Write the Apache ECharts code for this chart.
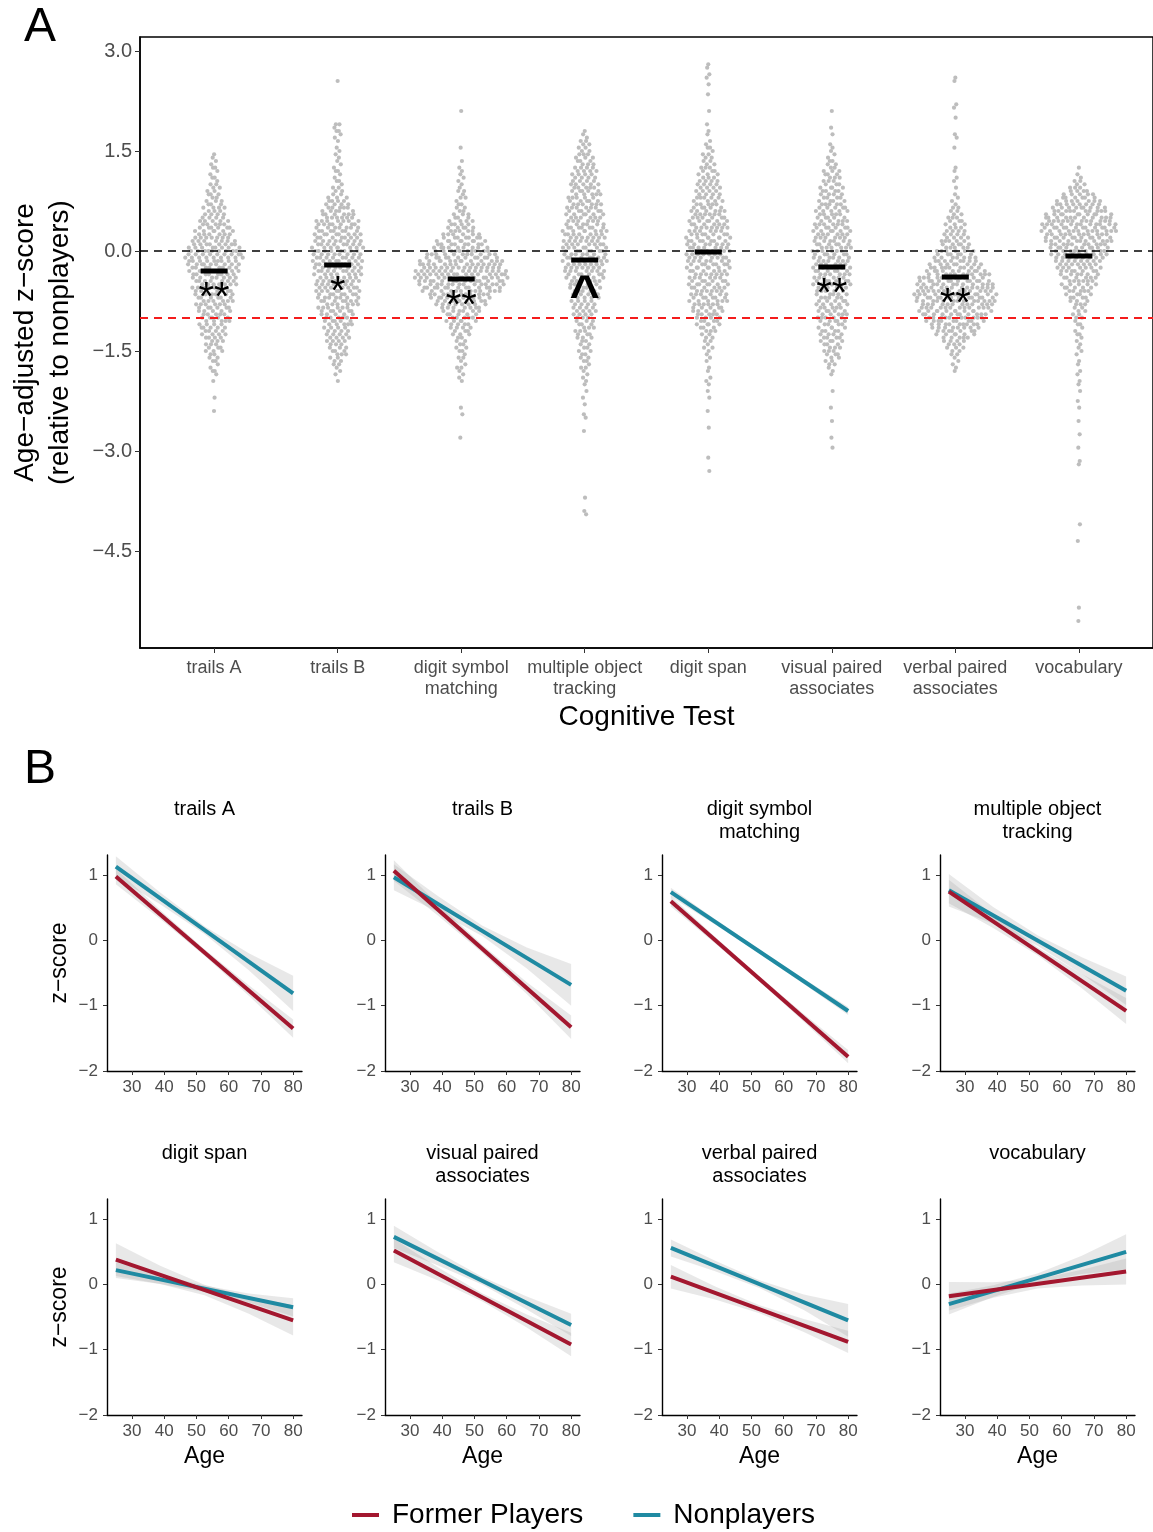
<!DOCTYPE html>
<html>
<head>
<meta charset="utf-8">
<title>Cognitive tests: former players vs nonplayers</title>
<script src="https://cdn.jsdelivr.net/npm/echarts@6.0.0/dist/echarts.min.js"></script>
<style>
  html, body { margin: 0; padding: 0; background: #fff; }
  #chart { width: 1153px; height: 1532px; }
</style>
</head>
<body>
<div id="chart"></div>
<script>
const FONT = '"Liberation Sans", Arial, Helvetica, sans-serif';
const MINUS = '\u2212';

// ---- panel A: age-adjusted z-scores, one swarm per test ----
const tests = [
  'trails A', 'trails B', 'digit symbol\nmatching', 'multiple object\ntracking',
  'digit span', 'visual paired\nassociates', 'verbal paired\nassociates', 'vocabulary',
];
const means = [-0.30, -0.21, -0.42, -0.135, -0.015, -0.24, -0.39, -0.075];
const sigMarks = ['**', '*', '**', '^', '', '**', '**', ''];
const yTicksA = [-4.5, -3, -1.5, 0, 1.5, 3];

// points per 0.05 bin, read top-down starting at swarmTop
const binStep = 0.05;
const swarmTop = [1.45, 2.55, 2.10, 1.80, 2.80, 2.10, 2.60, 1.25];
const swarmCounts = [
  [1,1,1,1,2,1,1,2,1,2,2, 2,3,2,3,3,4,3,4, 4,5,5,6,6,6,7,7, 8,8,9,9,9,9,
   9,8,8,8,7,7,7,7, 7,6,6,6,6,6, 5,5,5,5,4,5, 4,4,4,3,3,3, 3,2,2,2, 1,1,2,1,0,1,
   0,0,0,0,1,0,0,0,1],
  [1,0,0,0,0,0,0,0,0,0,0,0,0, 2,1,2,1,1,1,0,1,1, 1,1,1,1,1,2,1,1,2,1,2,
   2,2,3,4,4,5,5,6, 6,7,7,7,7,8,7,8, 8,8,8,8,8,8, 8,8,8,7,7,8,7,7,
   7,7,7,7,6,6, 6,5,5,5,5,4, 4,4,4,4,3,3, 3,3,2,2,2, 1,1,1,0,1],
  [1,0,0,0,0,0,0,0,0,0,0, 1,0,0,0,1,0,1,1,1,1,1, 1,1,2,1,2,1,2,2,2,3,
   3,4,4,5,5,6,7,8, 8,9,10,11,12,13, 14,14,15,15,15,14,14,13, 12,11,10,9,8,7,
   6,5,5,5,4,4, 3,3,2,2,2,2, 2,1,2,1,1,2,1,1,1,1,
   0,0,0,0,0,0,0,1,0,1,0,0,0,0,0,0,1],
  [1,1,1,2,2,2,2,3,3, 3,3,4,4,4,4,4,5,5, 5,5,5,5,6,6,6,6, 6,6,6,7,7,7,7,7,
   7,7,7,7,7,7, 7,7,7,6,6,6,5,5, 5,5,4,4,4,4, 4,4,3,3,3,3, 3,3,3,2,2,2,
   2,2,2,2,1,2,1,1,1,1, 1,0,1,0,1,0,1,0,0,1,1,
   0,0,0,1,0,0,0,0,0,0,0,0,0,0,0,0,0,0,0,0,0,0,0,1,0,0,0,1,1],
  [1,1,0,1,1,0,1,0,0,1, 0,0,0,0,1,0,0,0,1,0,1, 1,0,1,1,2,1,2,2,2,
   2,3,3,3,3,4,4,4, 4,4,5,4,5,5,6,6, 6,6,6,7,6,7,7,7, 7,7,7,7,7,7,
   7,7,6,7,6,6,7,6, 6,6,6,6,6,5, 5,5,4,4,4,3, 3,2,2,2,1,2,
   1,1,1,1,0,1,1,0,1,1, 1,0,1,0,1,0,0,0,1,0,
   0,0,0,1,0,0,0,0,0,0,0,0,1,0,0,0,1],
  [1,0,0,0,0,1,0,1,0,0,1, 1,1,1,1,2,2,2,3,3, 3,3,3,4,4,4,4,4, 5,5,5,5,5,5,6,6,
   6,6,6,6,6,6,6,6, 6,6,6,6,6,6,6,6, 6,6,5,5,5,5,5,5, 5,5,5,5,4,4,4,4,
   4,4,3,3,3,3,2,2, 2,1,1,1,0,0,
   0,0,1,0,0,0,0,1,0,0,0,1,0,0,0,0,1,0,0,1],
  [1,1,0,0,0,0,0,0,1,1,0,0,1,0,0,0,0,1,1,0,0,1,0,0,0,0,0,1,1,0,1,1,0,1,0,1,1,1,1,2,
   2,2,3,3,3,3,4,4, 4,5,5,5,6,6,7,8, 8,9,10,11,11,12,12,13,
   13,13,13,13,12,12,11,11, 10,9,9,8,7,6,5,4,3,3, 2,2,1,1,1,1,1],
  [1,0,1,1,2,2,3, 4,5,6,7,8,9,10,10, 11,12,12,12,12,11,11,11, 10,10,9,9,8,8,7,7,
   7,6,6,6,5,5,5,4, 4,3,3,2,2,2, 2,1,2,1,1,2,1,1,1,1, 1,1,0,1,1,0,1,1,0,1,
   1,0,1,0,0,1,0,1,0,0, 0,1,0,0,0,1,0,0,0,1,0,0,0,1,1,
   0,0,0,0,0,0,0,0,0,0,0,0,0,0,0,0,0,1,0,0,0,0,1,
   0,0,0,0,0,0,0,0,0,0,0,0,0,0,0,0,0,0,0,1,0,0,0,1],
];

// ---- panel B: linear fits of z-score on age ----
const panelTitles = [
  'trails A', 'trails B', 'digit symbol\nmatching', 'multiple object\ntracking',
  'digit span', 'visual paired\nassociates', 'verbal paired\nassociates', 'vocabulary',
];
const fitAges = [25, 80];
const formerFit = [
  [0.98, -1.35], [1.07, -1.33], [0.60, -1.78], [0.75, -1.08],
  [0.38, -0.55], [0.52, -0.92], [0.12, -0.88], [-0.18, 0.20],
];
const nonFit = [
  [1.13, -0.81], [0.97, -0.68], [0.74, -1.08], [0.77, -0.77],
  [0.22, -0.35], [0.73, -0.62], [0.56, -0.55], [-0.30, 0.50],
];
// half width of the confidence band at these ages
const ciAges = [25, 38.75, 52.5, 66.25, 80];
const formerCI = [
  [0.12, 0.07, 0.05, 0.08, 0.14], [0.16, 0.09, 0.06, 0.09, 0.18],
  [0.08, 0.05, 0.04, 0.06, 0.10], [0.18, 0.10, 0.06, 0.11, 0.20],
  [0.25, 0.14, 0.08, 0.13, 0.23], [0.18, 0.10, 0.06, 0.10, 0.18],
  [0.18, 0.10, 0.06, 0.10, 0.17], [0.22, 0.12, 0.07, 0.12, 0.20],
];
const nonCI = [
  [0.16, 0.09, 0.06, 0.13, 0.27], [0.20, 0.12, 0.08, 0.16, 0.32],
  [0.07, 0.04, 0.03, 0.04, 0.06], [0.25, 0.13, 0.08, 0.13, 0.22],
  [0.12, 0.07, 0.05, 0.07, 0.14], [0.17, 0.10, 0.06, 0.10, 0.17],
  [0.13, 0.08, 0.06, 0.12, 0.25], [0.16, 0.09, 0.07, 0.14, 0.27],
];
const ageTicks = [30, 40, 50, 60, 70, 80];
const zTicks = [-2, -1, 0, 1];

const FORMER = '#a3172f';
const NONPLAYER = '#1f8aa2';
const BAND_FILL = 'rgba(150,150,150,0.22)';

const myChart = echarts.init(document.getElementById('chart'));

// panel A geometry
const A_LEFT = 138;
const A_TOP = 37;
const A_WIDTH = 1019;
const A_HEIGHT = 611;
const A_XMIN = 0.4;
const A_XMAX = 8.6;
const pxPerCat = A_WIDTH / (A_XMAX - A_XMIN);
const PX_PER_COUNT = 6.5;

// van der Corput sequence, used for quasirandom spreading
function vdc(n) {
  let v = 0;
  let denom = 1;
  while (n > 0) {
    denom *= 2;
    v += (n % 2) / denom;
    n = Math.floor(n / 2);
  }
  return v;
}

function buildSwarm(ci) {
  const counts = swarmCounts[ci];
  const pts = [];
  let rank = 0;
  counts.forEach((n, k) => {
    let s = 0;
    [1, 2, 3, 2, 1].forEach((w, j) => {
      s += w * (counts[k + j - 2] || 0);
    });
    s /= 9;
    const value = +(swarmTop[ci] - k * binStep).toFixed(3);
    for (let m = 0; m < n; m++) {
      rank += 1;
      const off = ((vdc(rank) - 0.5) * s * PX_PER_COUNT) / pxPerCat;
      pts.push([ci + 1 + off, value]);
    }
  });
  return pts;
}

let swarmPoints = [];
tests.forEach((t, i) => {
  swarmPoints = swarmPoints.concat(buildSwarm(i));
});

function fmtNum(v, digits) {
  return (v < 0 ? MINUS : '') + Math.abs(v).toFixed(digits);
}

const grids = [
  { left: A_LEFT, top: A_TOP, width: A_WIDTH, height: A_HEIGHT, show: true, borderColor: '#000', borderWidth: 1.5 },
];
const xAxes = [
  {
    type: 'value', gridIndex: 0, min: A_XMIN, max: A_XMAX,
    axisLine: { onZero: false, lineStyle: { color: '#000', width: 1.5 } },
    axisTick: { customValues: [1, 2, 3, 4, 5, 6, 7, 8], length: 5, lineStyle: { color: '#333' } },
    axisLabel: {
      customValues: [1, 2, 3, 4, 5, 6, 7, 8],
      formatter: (v) => tests[Math.round(v) - 1],
      fontSize: 18, lineHeight: 21, color: '#4d4d4d', margin: 10,
    },
    splitLine: { show: false },
    name: 'Cognitive Test', nameLocation: 'middle', nameGap: 55,
    nameTextStyle: { fontSize: 28, color: '#000' },
  },
];
const yAxes = [
  {
    type: 'value', gridIndex: 0, min: -5.955, max: 3.21,
    axisLine: { show: true, onZero: false, lineStyle: { color: '#000', width: 1.5 } },
    axisTick: { show: true, customValues: yTicksA, length: 5, lineStyle: { color: '#333' } },
    axisLabel: {
      customValues: yTicksA,
      formatter: (v) => fmtNum(v, 1),
      fontSize: 20, color: '#4d4d4d', margin: 8,
    },
    splitLine: { show: false },
    name: 'Age\u2212adjusted z\u2212score\n(relative to nonplayers)',
    nameLocation: 'middle', nameGap: 62, nameRotate: 90,
    nameTextStyle: { fontSize: 28, lineHeight: 35, color: '#000' },
  },
];

const series = [
  {
    type: 'scatter', xAxisIndex: 0, yAxisIndex: 0, z: 2, silent: true, large: false,
    symbolSize: 4.2, itemStyle: { color: '#bdbdbd', opacity: 1 },
    data: swarmPoints,
  },
  {
    type: 'scatter', xAxisIndex: 0, yAxisIndex: 0, z: 4, silent: true,
    symbol: 'rect', symbolSize: [27, 5], itemStyle: { color: '#000', opacity: 1 },
    data: means.map((m, i) => [i + 1, m]),
    markLine: {
      silent: true, symbol: ['none', 'none'], label: { show: false },
      data: [
        { yAxis: 0, lineStyle: { color: '#000', type: [8, 6], width: 1.6, opacity: 1 } },
        { yAxis: -1, lineStyle: { color: '#f41c1c', type: [8, 6], width: 1.8, opacity: 1 } },
      ],
    },
  },
  {
    type: 'scatter', xAxisIndex: 0, yAxisIndex: 0, z: 5, silent: true,
    symbolSize: 0, itemStyle: { opacity: 1 },
    label: { show: true, position: 'inside', offset: [0, 28], fontSize: 40, color: '#000' },
    data: means.map((m, i) => {
      const item = { value: [i + 1, m], label: { formatter: sigMarks[i] } };
      if (sigMarks[i] === '^') {
        item.label.fontSize = 52;
        item.label.fontWeight = 'bold';
        item.label.offset = [0, 37];
      }
      return item;
    }),
  },
];

const graphic = [
  { type: 'text', x: 40, y: 28, style: { text: 'A', font: '48px ' + FONT, fill: '#000', textAlign: 'center', textVerticalAlign: 'middle' } },
  { type: 'text', x: 40, y: 770, style: { text: 'B', font: '48px ' + FONT, fill: '#000', textAlign: 'center', textVerticalAlign: 'middle' } },
];

const colLeft = [107, 385, 662, 940];
const rowTop = [855, 1199];
const B_WIDTH = 195;
const B_HEIGHT = 216;

function bandRenderer(rows) {
  return function (params, api) {
    if (params.dataIndex !== 0) return null;
    const upper = rows.map((r) => api.coord([r[0], r[2]]));
    const lower = rows.map((r) => api.coord([r[0], r[1]])).reverse();
    return {
      type: 'polygon',
      shape: { points: upper.concat(lower) },
      style: { fill: BAND_FILL },
    };
  };
}

function bandRows(fit, half) {
  return ciAges.map((a, j) => {
    const c = fit[0] + ((fit[1] - fit[0]) * (a - fitAges[0])) / (fitAges[1] - fitAges[0]);
    return [a, c - half[j], c + half[j]];
  });
}

panelTitles.forEach((title, p) => {
  const col = p % 4;
  const row = Math.floor(p / 4);
  const gi = p + 1;
  grids.push({ left: colLeft[col], top: rowTop[row], width: B_WIDTH, height: B_HEIGHT });
  xAxes.push({
    type: 'value', gridIndex: gi, min: 22.25, max: 82.75,
    axisLine: { onZero: false, lineStyle: { color: '#000', width: 1.4 } },
    axisTick: { customValues: ageTicks, length: 4, lineStyle: { color: '#333' } },
    axisLabel: { customValues: ageTicks, fontSize: 17, color: '#4d4d4d', margin: 8 },
    splitLine: { show: false },
    name: row === 1 ? 'Age' : '', nameLocation: 'middle', nameGap: 30,
    nameTextStyle: { fontSize: 23, color: '#000' },
  });
  yAxes.push({
    type: 'value', gridIndex: gi, min: -2, max: 1.31,
    axisLine: { show: true, onZero: false, lineStyle: { color: '#000', width: 1.4 } },
    axisTick: { show: true, customValues: zTicks, length: 4, lineStyle: { color: '#333' } },
    axisLabel: { customValues: zTicks, formatter: (v) => fmtNum(v, 0), fontSize: 17, color: '#4d4d4d', margin: 9 },
    splitLine: { show: false },
    name: col === 0 ? 'z\u2212score' : '', nameLocation: 'middle', nameGap: 36, nameRotate: 90,
    nameTextStyle: { fontSize: 23, color: '#000' },
  });
  graphic.push({
    type: 'text', x: colLeft[col] + B_WIDTH / 2, y: row === 0 ? 798 : 1142,
    style: { text: title, font: '20px ' + FONT, lineHeight: 23, fill: '#000', textAlign: 'center', textVerticalAlign: 'top' },
  });

  const nonRows = bandRows(nonFit[p], nonCI[p]);
  const formerRows = bandRows(formerFit[p], formerCI[p]);
  series.push(
    {
      type: 'custom', name: 'Nonplayers band', xAxisIndex: gi, yAxisIndex: gi, z: 2, silent: true,
      renderItem: bandRenderer(nonRows), data: nonRows,
    },
    {
      type: 'line', name: 'Nonplayers', xAxisIndex: gi, yAxisIndex: gi, z: 2, silent: true,
      symbol: 'none', color: NONPLAYER, lineStyle: { width: 4, color: NONPLAYER },
      data: fitAges.map((a, j) => [a, nonFit[p][j]]),
    },
    {
      type: 'custom', name: 'Former band', xAxisIndex: gi, yAxisIndex: gi, z: 2, silent: true,
      renderItem: bandRenderer(formerRows), data: formerRows,
    },
    {
      type: 'line', name: 'Former Players', xAxisIndex: gi, yAxisIndex: gi, z: 2, silent: true,
      symbol: 'none', color: FORMER, lineStyle: { width: 4, color: FORMER },
      data: fitAges.map((a, j) => [a, formerFit[p][j]]),
    }
  );
});

const option = {
  animation: false,
  textStyle: { fontFamily: FONT },
  legend: {
    data: ['Former Players', 'Nonplayers'],
    left: 352, top: 1501, padding: 0, selectedMode: false,
    icon: 'rect', itemWidth: 27, itemHeight: 4, itemGap: 50,
    textStyle: { fontSize: 28, color: '#000', padding: [0, 0, 0, 8] },
  },
  grid: grids,
  xAxis: xAxes,
  yAxis: yAxes,
  graphic: graphic,
  series: series,
};

myChart.setOption(option);
</script>
</body>
</html>
